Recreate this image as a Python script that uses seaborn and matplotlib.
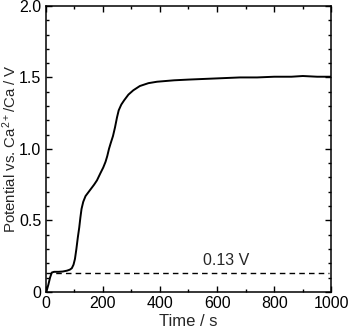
import numpy as np
import pandas as pd
import matplotlib
matplotlib.use("Agg")
import matplotlib.pyplot as plt
import seaborn as sns
from matplotlib.ticker import MultipleLocator, FuncFormatter

# potential vs time
time_s = [0, 3, 10, 16, 22, 30, 45, 60, 75, 85, 92, 98, 103, 108, 113, 118, 122, 126,
          132, 140, 155, 170, 180, 192, 202, 210, 216, 222, 228, 236, 243, 250, 256,
          265, 275, 290, 307, 330, 360, 390, 420, 450, 500, 560, 620, 680, 740, 800,
          860, 900, 950, 1000]
potential_v = [0.0, 0.0, 0.05, 0.10, 0.135, 0.14, 0.14, 0.142, 0.148, 0.155, 0.165, 0.19, 0.23, 0.30, 0.38, 0.45, 0.52, 0.58,
               0.63, 0.67, 0.71, 0.75, 0.78, 0.83, 0.87, 0.91, 0.95, 1.00, 1.04, 1.09, 1.15, 1.22, 1.27,
               1.31, 1.34, 1.38, 1.41, 1.44, 1.46, 1.47, 1.475, 1.48, 1.485, 1.49, 1.495, 1.50, 1.50, 1.505,
               1.505, 1.51, 1.505, 1.505]

ref_level = 0.135
ref_label = "0.13 V"

df = pd.DataFrame({"Time": time_s, "Potential": potential_v})

sns.set_style("ticks")
plt.rcParams["font.family"] = ["Liberation Sans", "DejaVu Sans"]
plt.rcParams["mathtext.fontset"] = "custom"
plt.rcParams["mathtext.rm"] = "Liberation Sans"
plt.rcParams["mathtext.it"] = "Liberation Sans:italic"

fig = plt.figure(figsize=(3.5, 3.32), dpi=100)
ax = fig.add_axes([0.130, 0.121, 0.817, 0.861])

sns.lineplot(data=df, x="Time", y="Potential", color="black", linewidth=1.4, ax=ax)
ax.plot([0, 990], [ref_level, ref_level], color="black", linestyle=(0, (4, 3)), linewidth=1.0)
ax.text(630, 0.187, ref_label, ha="center", va="baseline", fontsize=11.5)

ax.set_xlim(0, 1000)
ax.set_ylim(0, 2.0)
ax.xaxis.set_major_locator(MultipleLocator(200))
ax.xaxis.set_minor_locator(MultipleLocator(100))
ax.yaxis.set_major_locator(MultipleLocator(0.5))
ax.yaxis.set_minor_locator(MultipleLocator(0.1))
ax.yaxis.set_major_formatter(FuncFormatter(lambda v, p: "0" if v == 0 else f"{v:.1f}"))

ax.tick_params(which="both", direction="in", top=True, right=True, width=1.0, labelsize=11.5, colors="black", pad=3)
ax.tick_params(which="major", length=4)
ax.tick_params(which="minor", length=2.5)
for s in ax.spines.values():
    s.set_linewidth(1.1)
    s.set_color("black")

ax.set_xlabel("Time / s", fontsize=12, labelpad=2)
ax.set_ylabel(r"Potential vs. Ca$^{\mathrm{2+}}$/Ca / V", fontsize=10.8, va="center")
ax.yaxis.set_label_coords(-0.125, 0.5)

fig.savefig("out.png", dpi=100)
